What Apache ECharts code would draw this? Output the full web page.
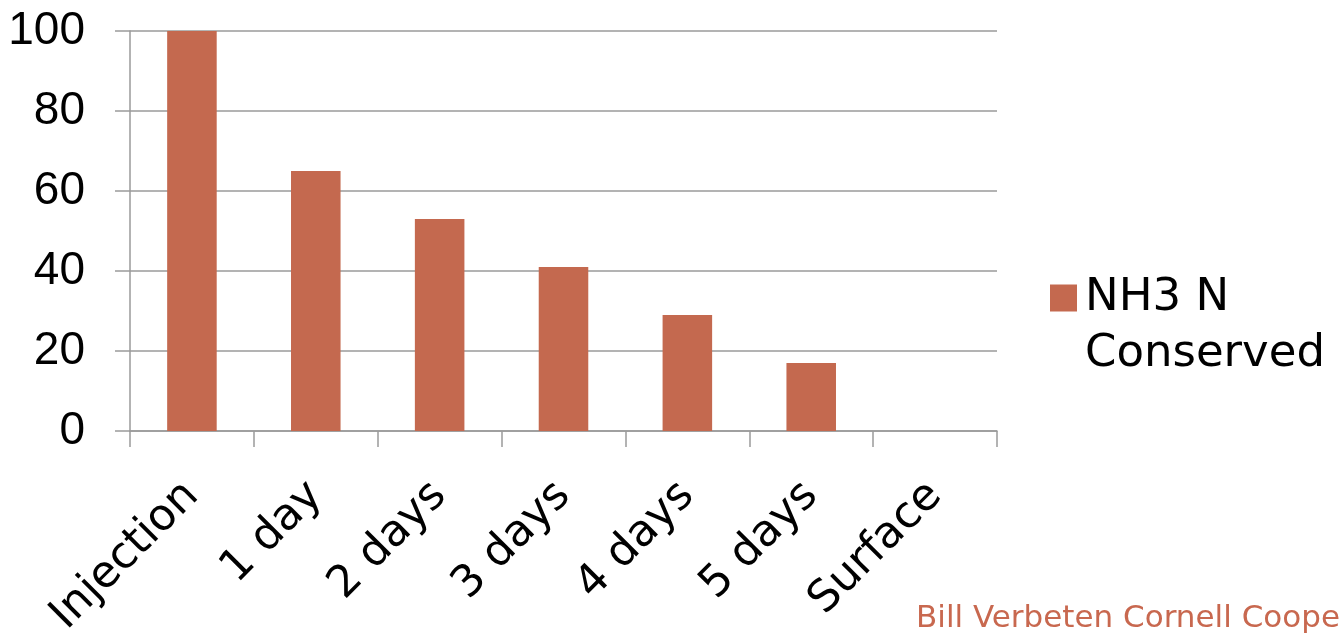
<!DOCTYPE html>
<html>
<head>
<meta charset="utf-8">
<script src="https://cdn.jsdelivr.net/npm/echarts@6/dist/echarts.min.js"></script>
<style>html,body{margin:0;padding:0;background:#fff;}#c{width:1340px;height:633px;}</style>
</head>
<body>
<div id="c"></div>
<script>
const categories = ['Injection', '1 day', '2 days', '3 days', '4 days', '5 days', 'Surface'];
const nh3Conserved = [100, 65, 53, 41, 29, 17, 0];
const yTicks = [0, 20, 40, 60, 80, 100];
const seriesName = 'NH3 N Conserved';
const legendLines = ['NH3 N', 'Conserved'];
const footer = 'Bill Verbeten Cornell Cooperative Extension';

const FONT = 'DejaVu Sans';
const NUMFONT = 'Liberation Sans';
const chart = echarts.init(document.getElementById('c'), null, {renderer: 'canvas'});
chart.setOption({
  animation: false,
  backgroundColor: '#ffffff',
  grid: {left: 130, right: 343, top: 31, bottom: 202, containLabel: false, outerBoundsMode: 'none'},
  xAxis: {
    type: 'category',
    data: categories,
    axisLine: {show: true, lineStyle: {color: '#9a9a9a', width: 1.5}},
    axisTick: {show: true, length: 16, lineStyle: {color: '#9a9a9a', width: 1.5}},
    axisLabel: {rotate: 45, margin: 58, color: '#000', fontFamily: FONT, fontSize: 44, interval: 0}
  },
  yAxis: {
    type: 'value',
    min: yTicks[0],
    max: yTicks[yTicks.length - 1],
    interval: 20,
    axisLine: {show: true, lineStyle: {color: '#9a9a9a', width: 1.5}},
    axisTick: {show: true, length: 15, lineStyle: {color: '#9a9a9a', width: 1.5}},
    splitLine: {show: true, lineStyle: {color: '#9a9a9a', width: 1.5}},
    axisLabel: {margin: 45, color: '#000', fontFamily: NUMFONT, fontSize: 46}
  },
  legend: {
    left: 1045,
    top: 209,
    orient: 'vertical',
    itemWidth: 27,
    itemHeight: 27,
    icon: 'rect',
    formatter: function () { return ' \n' + legendLines.join('\n'); },
    textStyle: {color: '#000', fontFamily: FONT, fontSize: 45, lineHeight: 56, padding: [0, 0, 0, 3]},
    data: [seriesName]
  },
  series: [{
    name: seriesName,
    type: 'bar',
    data: nh3Conserved,
    barCategoryGap: '60%',
    itemStyle: {color: '#c4694f'}
  }],
  graphic: [{
    type: 'text',
    left: 916,
    top: 603,
    style: {text: footer, fill: '#c8684f', font: '31px "' + FONT + '"'}
  }]
});
</script>
</body>
</html>
